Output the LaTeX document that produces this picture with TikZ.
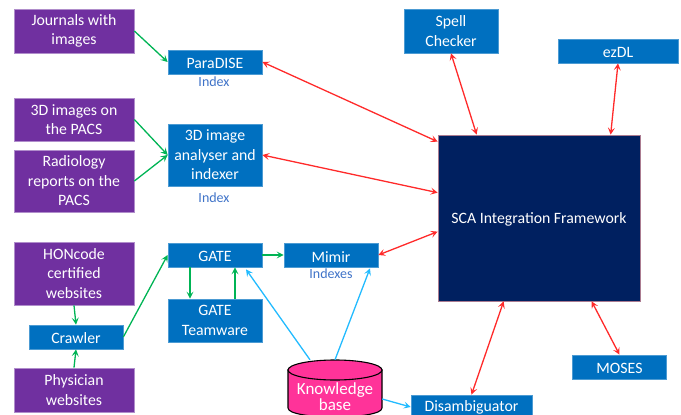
\documentclass[tikz,border=0pt]{standalone}
\usepackage{fontspec}
\setmainfont{Carlito}
\usetikzlibrary{arrows.meta,calc}
\definecolor{cpurple}{HTML}{7030A0}
\definecolor{cblue}{HTML}{0070C0}
\definecolor{cnavy}{HTML}{002060}
\definecolor{cpink}{HTML}{FF3399}
\definecolor{cgreen}{HTML}{00B455}
\definecolor{cred}{HTML}{FF2A2A}
\definecolor{ccyan}{HTML}{22BBFF}
\definecolor{cindex}{HTML}{3F73C8}
\tikzset{
  base/.style={rectangle,inner sep=0pt,align=center,text=white,font=\fontsize{15.8}{19.5}\selectfont,execute at begin node={\rule{0pt}{14pt}}},
  srcbox/.style={base,fill=cpurple,draw=cpurple!55!white,line width=.7pt,minimum width=120pt},
  toolbox/.style={base,fill=cblue,draw=cblue!70!white,line width=.7pt,minimum width=94pt},
  idxlabel/.style={inner sep=0pt,text=cindex,font=\fontsize{14}{16}\selectfont},
  feed/.style={-{Stealth[length=7pt,width=7pt,inset=3pt]},cgreen,line width=1.3pt},
  biglink/.style={{Stealth[length=7pt,width=7pt,inset=3pt]}-{Stealth[length=7pt,width=7pt,inset=3pt]},cred,line width=1.3pt},
  know/.style={-{Stealth[length=7pt,width=7pt,inset=3pt]},ccyan,line width=1.3pt},
}
\begin{document}
\begin{tikzpicture}[x=1pt,y=-1pt]
\useasboundingbox (0,0) rectangle (681,415);
\clip (0,0) rectangle (681,415);
\node[srcbox,minimum height=44pt] (jour) at (74,31) {Journals with\\images};
\node[srcbox,minimum height=43pt] (pacs) at (74,119.5) {3D images on\\the PACS};
\node[srcbox,minimum height=62pt] (radio) at (74,181) {Radiology\\reports on the\\PACS};
\node[srcbox,minimum height=63pt] (hon) at (74,273.5) {HONcode\\certified\\websites};
\node[srcbox,minimum height=44pt] (phys) at (74,390) {Physician\\websites};
\node[toolbox,minimum height=24pt] (crawl) at (76,337) {Crawler};
\node[toolbox,minimum height=24pt] (para) at (215,62) {ParaDISE};
\node[toolbox,minimum height=62pt] (ana) at (215,155) {3D image\\analyser and\\indexer};
\node[toolbox,minimum height=24pt] (gate) at (215,255) {GATE};
\node[toolbox,minimum height=43pt] (team) at (215,320.5) {GATE\\Teamware};
\node[toolbox,minimum height=24pt] (mimir) at (331,255) {Mimir};
\node[toolbox,minimum height=44pt] (spell) at (451,31) {Spell\\Checker};
\node[toolbox,minimum width=120pt,minimum height=24pt] (ezdl) at (618,51) {ezDL};
\node[toolbox,minimum height=24pt] (moses) at (619.5,367) {MOSES};
\node[toolbox,minimum width=121pt,minimum height=48pt] (dis) at (471.5,419) {};
\node[base] (distext) at (471.5,405.5) {Disambiguator};
\node[base,fill=cnavy,draw=cred!45!cnavy!60!white,line width=.7pt,minimum width=202pt,minimum height=166pt] (sca) at (539,218) {SCA Integration Framework};
\node[idxlabel] (idx1) at (214,82) {Index};
\node[idxlabel] (idx2) at (214,198) {Index};
\node[idxlabel] (idx3) at (331,274) {Indexes};
% knowledge base cylinder
\draw[black,line width=1.1pt,fill=cpink] (288,370) -- (288,408) .. controls (288,420) and (382,420) .. (382,408) -- (382,370) -- cycle;
\draw[black,line width=1.1pt,fill=cpink] (335,370) ellipse [x radius=47pt,y radius=10pt];
\node[base,minimum width=94pt,minimum height=74pt,font=\fontsize{17}{16}\selectfont] (kb) at (335,397) {Knowledge\\base};
\draw[feed] (jour.east) -- (para.west);
\draw[feed] (pacs.east) -- (ana.west);
\draw[feed] (radio.east) -- (ana.west);
\draw[feed] (hon.south) -- (crawl.north);
\draw[feed] (phys.north) -- (crawl.south);
\draw[feed] (crawl.east) -- (gate.west);
\draw[feed] ([xshift=-25pt]gate.south) -- ([xshift=-25pt]team.north);
\draw[feed] ([xshift=20pt]team.north) -- ([xshift=20pt]gate.south);
\draw[feed] (gate.east) -- (mimir.west);
\draw[biglink] (para.east) -- ([yshift=-7pt]sca.north west);
\draw[biglink] (ana.east) -- ([yshift=-58pt]sca.north west);
\draw[biglink] (mimir.east) -- ([yshift=-97pt]sca.north west);
\draw[biglink] (spell.south) -- ([xshift=39pt]sca.north west);
\draw[biglink] (ezdl.south) -- ([xshift=173pt]sca.north west);
\draw[biglink] ([xshift=66pt]sca.south west) -- (dis.north);
\draw[biglink] ([xshift=154pt]sca.south west) -- (moses.north);
\draw[know] ([xshift=-25pt]kb.north) -- ([xshift=31pt,yshift=-2pt]gate.south);
\draw[know] (kb.north) -- ([xshift=39pt,yshift=-1pt]mimir.south);
\draw[know] ([yshift=-2pt]kb.east) -- ([yshift=12pt]dis.west);
\end{tikzpicture}
\end{document}
